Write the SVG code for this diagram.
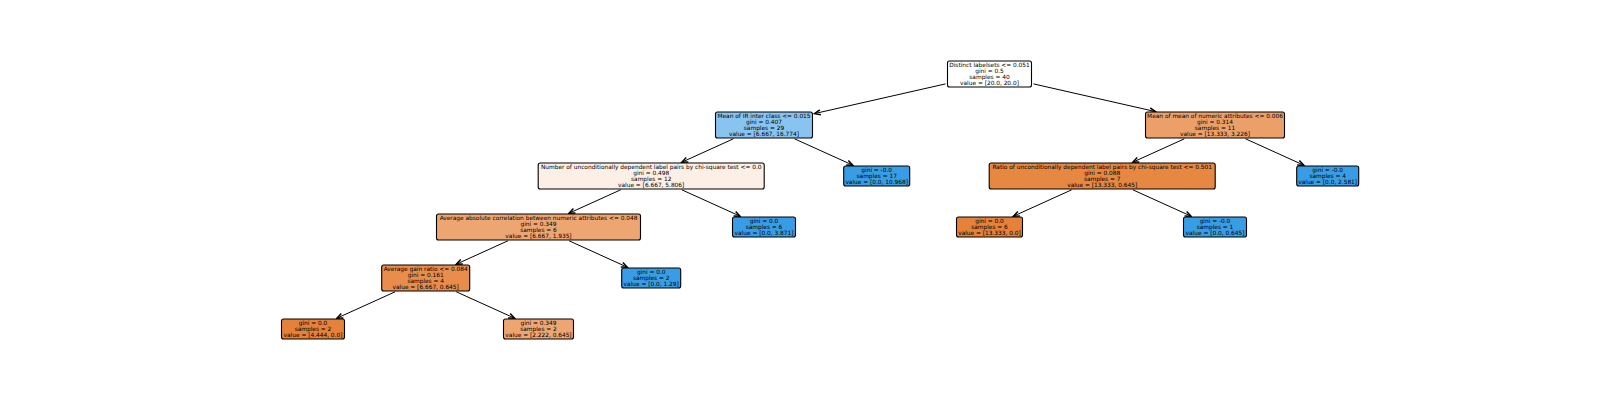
<svg xmlns="http://www.w3.org/2000/svg" width="1600" height="400" viewBox="0 0 1600 400">
<style>
.bx{stroke:#000;stroke-width:1.1}
.t{font-family:"DejaVu Sans",sans-serif;font-size:5.85px;fill:#000;text-anchor:middle}
.e{stroke:#000;stroke-width:1;fill:none;marker-end:url(#ah)}
</style>
<defs>
<marker id="ah" markerUnits="userSpaceOnUse" markerWidth="8" markerHeight="8" viewBox="-5 -3 6 6" refX="0" refY="0" orient="auto">
<path d="M-4.5,-1.9 L0,0 L-4.5,1.9" fill="none" stroke="#000" stroke-width="1.1"/>
</marker>
</defs>
<rect width="1600" height="400" fill="#fff"/>
<g transform="translate(0,-1)">
<g id="edges">
<line class="e" x1="945.5" y1="84.9" x2="814.5" y2="114.6"/>
<line class="e" x1="1033.5" y1="84.9" x2="1155.5" y2="112.6"/>
<line class="e" x1="733.4" y1="139.8" x2="681.8" y2="163.2"/>
<line class="e" x1="794.5" y1="139.8" x2="852.8" y2="166.2"/>
<line class="e" x1="1184.4" y1="139.8" x2="1132.8" y2="163.2"/>
<line class="e" x1="1245.5" y1="139.8" x2="1303.8" y2="166.2"/>
<line class="e" x1="620.7" y1="190.8" x2="569.0" y2="214.2"/>
<line class="e" x1="681.8" y1="190.8" x2="740.1" y2="217.2"/>
<line class="e" x1="1071.7" y1="190.8" x2="1013.4" y2="217.2"/>
<line class="e" x1="1132.8" y1="190.8" x2="1191.1" y2="217.2"/>
<line class="e" x1="507.9" y1="241.8" x2="456.3" y2="265.2"/>
<line class="e" x1="569.1" y1="241.8" x2="627.3" y2="268.2"/>
<line class="e" x1="395.1" y1="292.8" x2="336.9" y2="319.2"/>
<line class="e" x1="456.3" y1="292.8" x2="514.6" y2="319.2"/>
</g>
<g id="n0">
<rect class="bx" x="947.5" y="62" width="84" height="26" rx="2" fill="#ffffff"/>
<text class="t" x="989.5" y="68.1">Distinct labelsets &lt;= 0.051</text>
<text class="t" x="989.5" y="74.1">gini = 0.5</text>
<text class="t" x="989.5" y="80.1">samples = 40</text>
<text class="t" x="989.5" y="86.1">value = [20.0, 20.0]</text>
</g>
<g id="n1">
<rect class="bx" x="715.5" y="113" width="97" height="26" rx="2" fill="#88c4ef"/>
<text class="t" x="764" y="119.1">Mean of IR inter class &lt;= 0.015</text>
<text class="t" x="764" y="125.1">gini = 0.407</text>
<text class="t" x="764" y="131.1">samples = 29</text>
<text class="t" x="764" y="137.1">value = [6.667, 16.774]</text>
</g>
<g id="n2">
<rect class="bx" x="1145.5" y="113" width="139" height="26" rx="2" fill="#eba069"/>
<text class="t" x="1215" y="119.1">Mean of mean of numeric attributes &lt;= 0.006</text>
<text class="t" x="1215" y="125.1">gini = 0.314</text>
<text class="t" x="1215" y="131.1">samples = 11</text>
<text class="t" x="1215" y="137.1">value = [13.333, 3.226]</text>
</g>
<g id="n3">
<rect class="bx" x="538.2" y="164" width="226" height="26" rx="2" fill="#fcefe6"/>
<text class="t" x="651.2" y="170.1">Number of unconditionally dependent label pairs by chi-square test &lt;= 0.0</text>
<text class="t" x="651.2" y="176.1">gini = 0.498</text>
<text class="t" x="651.2" y="182.1">samples = 12</text>
<text class="t" x="651.2" y="188.1">value = [6.667, 5.806]</text>
</g>
<g id="n4">
<rect class="bx" x="843.7" y="167" width="66" height="20" rx="2" fill="#399de5"/>
<text class="t" x="876.7" y="173.1">gini = -0.0</text>
<text class="t" x="876.7" y="179.1">samples = 17</text>
<text class="t" x="876.7" y="185.1">value = [0.0, 10.968]</text>
</g>
<g id="n5">
<rect class="bx" x="989.2" y="164" width="226" height="26" rx="2" fill="#e68742"/>
<text class="t" x="1102.2" y="170.1">Ratio of unconditionally dependent label pairs by chi-square test &lt;= 0.501</text>
<text class="t" x="1102.2" y="176.1">gini = 0.088</text>
<text class="t" x="1102.2" y="182.1">samples = 7</text>
<text class="t" x="1102.2" y="188.1">value = [13.333, 0.645]</text>
</g>
<g id="n6">
<rect class="bx" x="1296.7" y="167" width="62" height="20" rx="2" fill="#399de5"/>
<text class="t" x="1327.7" y="173.1">gini = -0.0</text>
<text class="t" x="1327.7" y="179.1">samples = 4</text>
<text class="t" x="1327.7" y="185.1">value = [0.0, 2.581]</text>
</g>
<g id="n7">
<rect class="bx" x="436.5" y="215" width="204" height="26" rx="2" fill="#eda672"/>
<text class="t" x="538.5" y="221.1">Average absolute correlation between numeric attributes &lt;= 0.048</text>
<text class="t" x="538.5" y="227.1">gini = 0.349</text>
<text class="t" x="538.5" y="233.1">samples = 6</text>
<text class="t" x="538.5" y="239.1">value = [6.667, 1.935]</text>
</g>
<g id="n8">
<rect class="bx" x="732.5" y="218" width="63" height="20" rx="2" fill="#399de5"/>
<text class="t" x="764" y="224.1">gini = 0.0</text>
<text class="t" x="764" y="230.1">samples = 6</text>
<text class="t" x="764" y="236.1">value = [0.0, 3.871]</text>
</g>
<g id="n9">
<rect class="bx" x="956.5" y="218" width="66" height="20" rx="2" fill="#e58139"/>
<text class="t" x="989.5" y="224.1">gini = 0.0</text>
<text class="t" x="989.5" y="230.1">samples = 6</text>
<text class="t" x="989.5" y="236.1">value = [13.333, 0.0]</text>
</g>
<g id="n10">
<rect class="bx" x="1183.5" y="218" width="63" height="20" rx="2" fill="#399de5"/>
<text class="t" x="1215" y="224.1">gini = -0.0</text>
<text class="t" x="1215" y="230.1">samples = 1</text>
<text class="t" x="1215" y="236.1">value = [0.0, 0.645]</text>
</g>
<g id="n11">
<rect class="bx" x="381.7" y="266" width="88" height="26" rx="2" fill="#e88d4c"/>
<text class="t" x="425.7" y="272.1">Average gain ratio &lt;= 0.084</text>
<text class="t" x="425.7" y="278.1">gini = 0.161</text>
<text class="t" x="425.7" y="284.1">samples = 4</text>
<text class="t" x="425.7" y="290.1">value = [6.667, 0.645]</text>
</g>
<g id="n12">
<rect class="bx" x="621.7" y="269" width="59" height="20" rx="2" fill="#399de5"/>
<text class="t" x="651.2" y="275.1">gini = 0.0</text>
<text class="t" x="651.2" y="281.1">samples = 2</text>
<text class="t" x="651.2" y="287.1">value = [0.0, 1.29]</text>
</g>
<g id="n13">
<rect class="bx" x="281.5" y="320" width="63" height="20" rx="2" fill="#e58139"/>
<text class="t" x="313" y="326.1">gini = 0.0</text>
<text class="t" x="313" y="332.1">samples = 2</text>
<text class="t" x="313" y="338.1">value = [4.444, 0.0]</text>
</g>
<g id="n14">
<rect class="bx" x="503.5" y="320" width="70" height="20" rx="2" fill="#eda672"/>
<text class="t" x="538.5" y="326.1">gini = 0.349</text>
<text class="t" x="538.5" y="332.1">samples = 2</text>
<text class="t" x="538.5" y="338.1">value = [2.222, 0.645]</text>
</g>
</g>
</svg>
